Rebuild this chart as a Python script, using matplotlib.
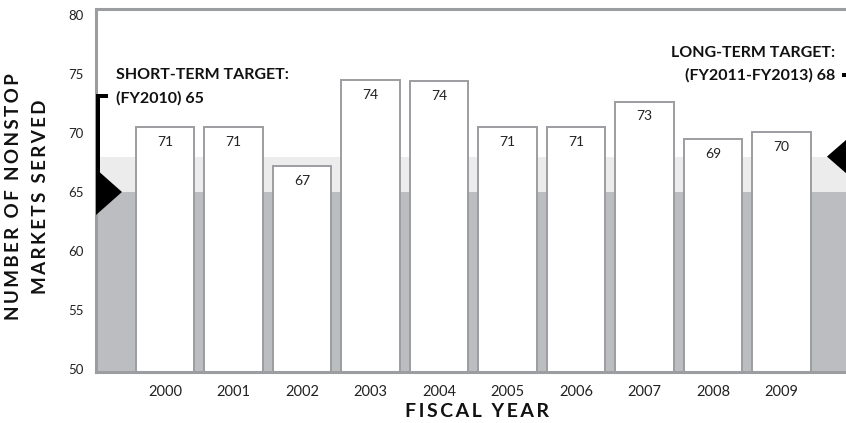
import matplotlib
matplotlib.use("Agg")
import matplotlib.pyplot as plt
from matplotlib.patches import Polygon, Rectangle

# ---- data ----
years = ["2000", "2001", "2002", "2003", "2004", "2005", "2006", "2007", "2008", "2009"]
markets_label = [71, 71, 67, 74, 74, 71, 71, 73, 69, 70]
# bar tops as drawn in the source graphic
markets_drawn = [70.5, 70.5, 67.2, 74.5, 74.4, 70.5, 70.5, 72.65, 69.45, 70.1]
short_term_target = 65
long_term_target = 68
yticks = [50, 55, 60, 65, 70, 75, 80]

FAM = ["Lato", "DejaVu Sans"]
DARK = "#bcbdc0"
LIGHT = "#ebeceb"
EDGE = "#9c9da0"

def spaced(s, sep="\u200a"):
    return sep.join(s)

fig = plt.figure(figsize=(8.46, 4.23), dpi=100)
ax = fig.add_axes([96 / 846, 1 - 372 / 423, 1 - 96 / 846, (372 - 9) / 423])
ax.set_xlim(-1.007, 9.942)
ax.set_ylim(49.75, 80.5)

# target bands
ax.axhspan(ax.get_ylim()[0], short_term_target, color=DARK, lw=0, zorder=0)
ax.axhspan(short_term_target, long_term_target, color=LIGHT, lw=0, zorder=0)

x = list(range(len(years)))
bars = ax.bar(x, [h - ax.get_ylim()[0] for h in markets_drawn], bottom=ax.get_ylim()[0],
              width=0.855, color="white", edgecolor=EDGE, linewidth=1.4, zorder=2)
for xi, h, lab in zip(x, markets_drawn, markets_label):
    ax.text(xi, h - 1.25, str(lab), ha="center", va="center", fontsize=10,
            family=FAM, color="#222222", zorder=3)

ax.set_xticks(x)
ax.set_xticklabels(years, family=FAM, fontsize=10.5, color="#222222")
ax.set_yticks(yticks)
ax.set_yticklabels([str(v) for v in yticks], family=FAM, fontsize=9.5, color="#222222")
ax.tick_params(axis="both", length=0)
ax.tick_params(axis="x", pad=9)
ax.tick_params(axis="y", pad=9)

for side in ["left", "top", "bottom"]:
    ax.spines[side].set_color(EDGE)
    ax.spines[side].set_linewidth(2.2)
ax.spines["right"].set_visible(False)

# short-term target marker (left)
ax.add_patch(Polygon([[-1.007, short_term_target + 1.95], [-0.628, short_term_target],
                      [-1.007, short_term_target - 1.95]], closed=True,
                     color="black", lw=0, zorder=5, clip_on=False))
ax.add_patch(Rectangle((-1.007, short_term_target), 0.06, 73.14 - short_term_target,
                       color="black", lw=0, zorder=5, clip_on=False))
ax.add_patch(Rectangle((-1.007, 73.0), 0.175, 0.28, color="black", lw=0, zorder=5,
                       clip_on=False))
ax.text(-0.715, 74.92, "SHORT-TERM TARGET:", ha="left", va="center", fontsize=11.5,
        fontweight="bold", family=FAM, color="#111111")
ax.text(-0.715, 72.97, f"(FY2010) {short_term_target}", ha="left", va="center",
        fontsize=11.5, fontweight="bold", family=FAM, color="#111111")

# long-term target marker (right)
ax.add_patch(Polygon([[10.05, long_term_target + 1.95], [9.664, long_term_target],
                      [10.05, long_term_target - 1.95]], closed=True,
                     color="black", lw=0, zorder=5, clip_on=False))
ax.add_patch(Rectangle((9.883, 74.78), 0.2, 0.28, color="black", lw=0, zorder=5,
                       clip_on=False))
ax.text(9.78, 76.78, "LONG-TERM TARGET:", ha="right", va="center", fontsize=11.5,
        fontweight="bold", family=FAM, color="#111111")
ax.text(9.78, 74.92, f"(FY2011-FY2013) {long_term_target}", ha="right", va="center",
        fontsize=11.5, fontweight="bold", family=FAM, color="#111111")

# axis titles
fig.text(477 / 846, 1 - 411 / 423, spaced("FISCAL YEAR", "\u2009"), ha="center",
         va="center", fontsize=14, fontweight="bold", family=FAM, color="#111111")
fig.text(14 / 846, 1 - 197 / 423, spaced("NUMBER OF NONSTOP", "\u2009"), ha="center",
         va="center", rotation=90, fontsize=13.5, fontweight="bold", family=FAM,
         color="#111111")
fig.text(40 / 846, 1 - 197 / 423, spaced("MARKETS SERVED", "\u2009"), ha="center",
         va="center", rotation=90, fontsize=13.5, fontweight="bold", family=FAM,
         color="#111111")

fig.savefig("out.png", dpi=100)
